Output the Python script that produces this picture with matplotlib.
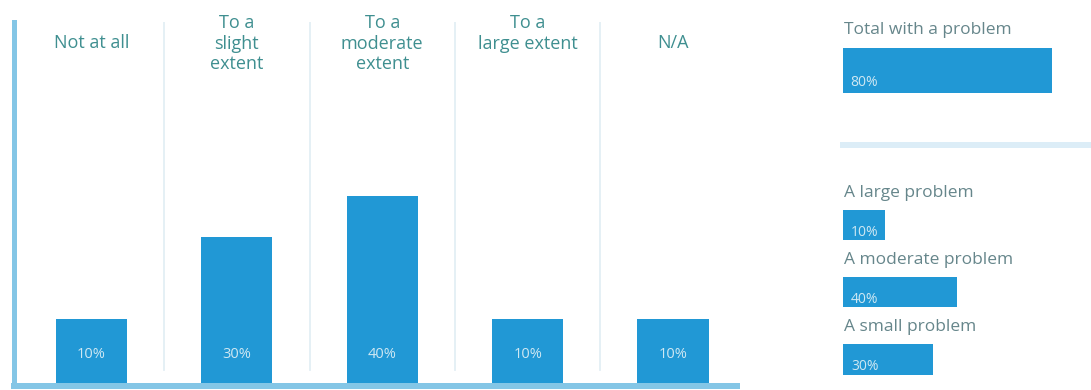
import matplotlib.pyplot as plt
from matplotlib.lines import Line2D

plt.rcParams['font.family'] = ['Open Sans', 'DejaVu Sans']

# main chart data
categories = ["Not at all", "To a\nslight\nextent", "To a\nmoderate\nextent", "To a\nlarge extent", "N/A"]
shares = [10, 30, 40, 10, 10]

# side panel data
total_label = "Total with a problem"
total_share = 80
problem_labels = ["A large problem", "A moderate problem", "A small problem"]
problem_shares = [10, 40, 30]

BAR = '#2198d5'
AXIS = '#84c6e6'
GRID = '#e3eff5'
LABEL = '#3f8f90'
SIDE_LABEL = '#66868b'
VALUE = '#cfe8f3'

# the infographic bars do not start at zero: they grow from a small floor
COL_FLOOR = -6.5
ROW_FLOOR = -7.8

W, H = 1091, 390
fig = plt.figure(figsize=(W / 100, H / 100), dpi=100)


def px_axes(left, top, right, bottom):
    # pixel box (from top-left) -> figure axes
    return fig.add_axes([left / W, 1 - bottom / H, (right - left) / W, (bottom - top) / H])


PT = 0.72  # points per pixel at dpi 100

# ---- main column chart ----
ax = px_axes(14, 22, 737, 386)
x = list(range(len(categories)))
ax.bar(x, [s - COL_FLOOR for s in shares], bottom=COL_FLOOR, width=0.49, color=BAR, zorder=1)
ax.set_xlim(-0.533, 4.44)
ax.set_ylim(COL_FLOOR, 82.6)
for sep in [0.5, 1.5, 2.5, 3.5]:
    ax.axvline(sep, ymin=0.045, ymax=1, color=GRID, lw=1.3, zorder=0)
for s in ['top', 'right']:
    ax.spines[s].set_visible(False)
ax.spines['left'].set_color(AXIS)
ax.spines['left'].set_linewidth(5 * PT)
ax.spines['bottom'].set_color(AXIS)
ax.spines['bottom'].set_linewidth(6 * PT)
ax.set_xticks([])
ax.set_yticks([])

for xi, cat, val in zip(x, categories, shares):
    nlines = cat.count('\n') + 1
    dy = 8 if nlines > 1 else -12
    ax.annotate(cat, (xi, 1), xycoords=('data', 'axes fraction'),
                xytext=(0, dy * PT), textcoords='offset points',
                ha='center', va='top', fontsize=13, color=LABEL, linespacing=1.18)
    ax.annotate(f"{val}%", (xi, 0), xycoords=('data', 'axes fraction'),
                xytext=(0, 32 * PT), textcoords='offset points',
                ha='center', va='center', fontsize=10.5, color=VALUE)

# ---- side panel: total ----
tax = px_axes(843, 48, 1091, 93)
tax.barh([0], [total_share - ROW_FLOOR], left=ROW_FLOOR, height=1, color=BAR)
tax.set_xlim(ROW_FLOOR, 96.4)
tax.set_ylim(-0.5, 0.5)
tax.axis('off')
tax.annotate(total_label, (0, 1), xycoords='axes fraction', xytext=(1 * PT, 18 * PT),
             textcoords='offset points', ha='left', va='center', fontsize=12.5, color=SIDE_LABEL)
tax.annotate(f"{total_share}%", (0, 0), xycoords='axes fraction', xytext=(7 * PT, 11 * PT),
             textcoords='offset points', ha='left', va='center', fontsize=10,
             color=VALUE)

fig.add_artist(Line2D([843 / W, 1], [1 - 145 / H, 1 - 145 / H], transform=fig.transFigure,
                      color='#dcedf7', lw=6 * PT))

# ---- side panel: breakdown ----
bax = px_axes(843, 170, 1091, 390)
y = list(range(len(problem_labels)))
bax.barh(y, [s - ROW_FLOOR for s in problem_shares], left=ROW_FLOOR, height=0.45, color=BAR)
bax.set_xlim(ROW_FLOOR, 96.4)
bax.set_ylim(2.454, -0.818)
bax.axis('off')
for yi, lab, val in zip(y, problem_labels, problem_shares):
    bax.annotate(lab, (0, yi), xycoords=('axes fraction', 'data'), xytext=(1 * PT, 32 * PT),
                 textcoords='offset points', ha='left', va='center', fontsize=12.5, color=SIDE_LABEL)
    bax.annotate(f"{val}%", (0, yi), xycoords=('axes fraction', 'data'), xytext=(8 * PT, -7 * PT),
                 textcoords='offset points', ha='left', va='center', fontsize=10, color=VALUE)

fig.savefig('out.png', dpi=100, facecolor='white')
